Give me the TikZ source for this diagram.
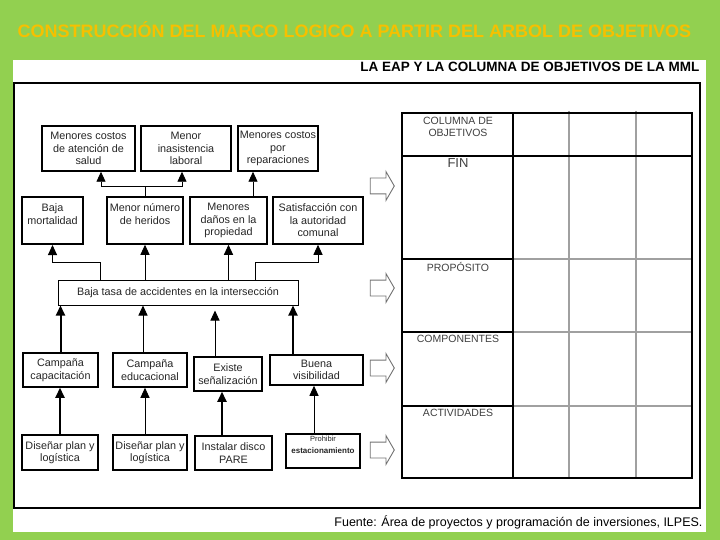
\documentclass[tikz,border=0pt]{standalone}
\usepackage{fontspec}
\setmainfont{Liberation Sans}
\usetikzlibrary{arrows.meta, shapes.arrows}
\definecolor{slidegreen}{RGB}{146, 208, 80}
\definecolor{titlegold}{RGB}{246, 192, 0}
\definecolor{gridgray}{RGB}{160, 160, 160}

\begin{document}
\begin{tikzpicture}[
    x=1pt, y=-1pt,
    treebox/.style={rectangle, draw=black, line width=1.5pt, fill=white, align=center, inner sep=0.5pt, text=black!85, font=\fontsize{10.8}{12.5}\selectfont},
    link/.style={draw, -{Triangle[length=10pt, width=9pt]}, line width=0.9pt},
    boldlink/.style={link, line width=2pt},
    hollow/.style={single arrow, draw=black!55, fill=white, line width=0.9pt, minimum height=24pt, inner xsep=0pt, inner ysep=7.5pt, single arrow head extend=6.5pt, single arrow tip angle=120},
    celltext/.style={anchor=north, align=center, text=black!75, font=\fontsize{10.5}{11.5}\selectfont},
    thickrule/.style={draw=black, line width=1.5pt},
    softrule/.style={draw=gridgray, line width=1.8pt}
  ]
    % slide background and white panel
    \fill[slidegreen] (0,0) rectangle (720,540);
    \useasboundingbox (0,0) rectangle (720,540);
    \fill[white] (13,60) rectangle (706,532);
    \draw[line width=1.2pt] (14,83) rectangle (700,508);

    \node (title) [anchor=west, text=titlegold, font=\fontsize{18}{20}\selectfont\bfseries] at (14,30) {CONSTRUCCIÓN DEL MARCO LOGICO A PARTIR DEL ARBOL DE OBJETIVOS};
    \node (head) [anchor=east, font=\fontsize{13.5}{15}\selectfont\bfseries] at (703,67) {LA EAP Y LA COLUMNA DE OBJETIVOS DE LA MML};
    \node (src) [anchor=east, font=\fontsize{12.5}{14}\selectfont] at (706,522) {Fuente: Área de proyectos y programación de inversiones, ILPES.};

    % tree of objectives: ends
    \node (t1) [treebox, minimum width=93, minimum height=45] at (88.5,148.5) {Menores costos\\de atención de\\salud};
    \node (t2) [treebox, minimum width=90, minimum height=45] at (186,148.5) {Menor\\inasistencia\\laboral};
    \node (t3) [treebox, minimum width=80, minimum height=45] at (278,148.5) {Menores costos\\por\\reparaciones};

    \node (b1) [treebox, minimum width=61, minimum height=47, line width=2pt] at (52.5,220.5) {Baja\\mortalidad\\\mbox{}};
    \node (b2) [treebox, minimum width=76, minimum height=47] at (145,220.5) {Menor número\\de heridos\\\mbox{}};
    \node (b3) [treebox, minimum width=77, minimum height=47] at (228.5,220.5) {Menores\\daños en la\\propiedad};
    \node (b4) [treebox, minimum width=90, minimum height=47] at (318,220.5) {Satisfacción con\\la autoridad\\comunal};

    % purpose
    \node (mid) [treebox, minimum width=240, minimum height=25, line width=1pt] at (178,292.5) {Baja tasa de accidentes en la intersección};

    % means
    \node (c1) [treebox, minimum width=75, minimum height=34] at (60.5,370) {Campaña\\capacitación};
    \node (c2) [treebox, minimum width=74, minimum height=34] at (150,370) {Campaña\\educacional};
    \node (c3) [treebox, minimum width=68, minimum height=34] at (228,374) {Existe\\señalización};
    \node (c4) [treebox, minimum width=93, minimum height=30] at (316.5,370) {Buena\\visibilidad};

    \node (a1) [treebox, minimum width=76, minimum height=35] at (60,452.5) {Diseñar plan y\\logística};
    \node (a2) [treebox, minimum width=74, minimum height=35] at (150,452.5) {Diseñar plan y\\logística};
    \node (a3) [treebox, minimum width=77, minimum height=34] at (233.5,453) {Instalar disco\\PARE};
    \node (a4) [treebox, minimum width=74, minimum height=34] at (323,451) {{\fontsize{7.5}{8.5}\selectfont Prohibir}\\{\fontsize{8}{9}\selectfont\bfseries estacionamiento}\\\mbox{}};

    % connectors
    \coordinate (j1) at (145,186);
    \draw[line width=0.9pt] (b2.north) -- (j1);
    \draw[link] (j1) -| ([xshift=12.5]t1.south);
    \draw[link] (j1) -| ([xshift=-4]t2.south);
    \draw[link] ([xshift=24.5]b3.north) -- ([xshift=24.5]b3.north |- t3.south);

    \draw[link] ([xshift=-78]mid.north) -- ++(0,-17) -| (b1.south);
    \draw[link] (mid.north -| b2.south) -- (b2.south);
    \draw[link] (mid.north -| b3.south) -- (b3.south);
    \draw[link] ([xshift=77]mid.north) -- ++(0,-17) -| (b4.south);

    \draw[boldlink] (c1.north) -- (c1.north |- mid.south);
    \draw[link] ([xshift=-7]c2.north) -- ([xshift=-7]c2.north |- mid.south);
    \draw[link, shorten >=5pt] ([xshift=-13]c3.north) -- ([xshift=-13]c3.north |- mid.south);
    \draw[boldlink] ([xshift=-23.5]c4.north) -- ([xshift=-23.5]c4.north |- mid.south);

    \draw[boldlink] (a1.north) -- (a1.north |- c1.south);
    \draw[link] ([xshift=-5]a2.north) -- ([xshift=-5]a2.north |- c2.south);
    \draw[boldlink] ([xshift=-11.5]a3.north) -- ([xshift=-11.5]a3.north |- c3.south);
    \draw[link] ([xshift=-9]a4.north) -- ([xshift=-9]a4.north |- c4.south);

    % hollow arrows toward the matrix
    \node (h1) [hollow] at (380,186) {};
    \node (h2) [hollow] at (380,288) {};
    \node (h3) [hollow] at (380,368) {};
    \node (h4) [hollow] at (380,450) {};

    % objectives column of the matrix
    \draw[softrule] (569,111) -- (569,478) (636,111) -- (636,478);
    \draw[softrule] (513,259) -- (692,259) (513,332) -- (692,332) (513,406) -- (692,406);
    \draw[thickrule] (402,113) rectangle (692,478);
    \draw[thickrule] (402,156) -- (692,156);
    \draw[thickrule] (513,113) -- (513,478);
    \draw[thickrule] (402,259) -- (513,259) (402,332) -- (513,332) (402,406) -- (513,406);

    \node (colobj) [celltext] at (458,114) {COLUMNA DE\\OBJETIVOS};
    \node (fin) [celltext, font=\fontsize{13}{14}\selectfont] at (458,155) {FIN};
    \node (prop) [celltext] at (458,259) {PROPÓSITO};
    \node (comp) [celltext] at (458,332) {COMPONENTES};
    \node (act) [celltext] at (458,406) {ACTIVIDADES};
  \end{tikzpicture}
\end{document}
